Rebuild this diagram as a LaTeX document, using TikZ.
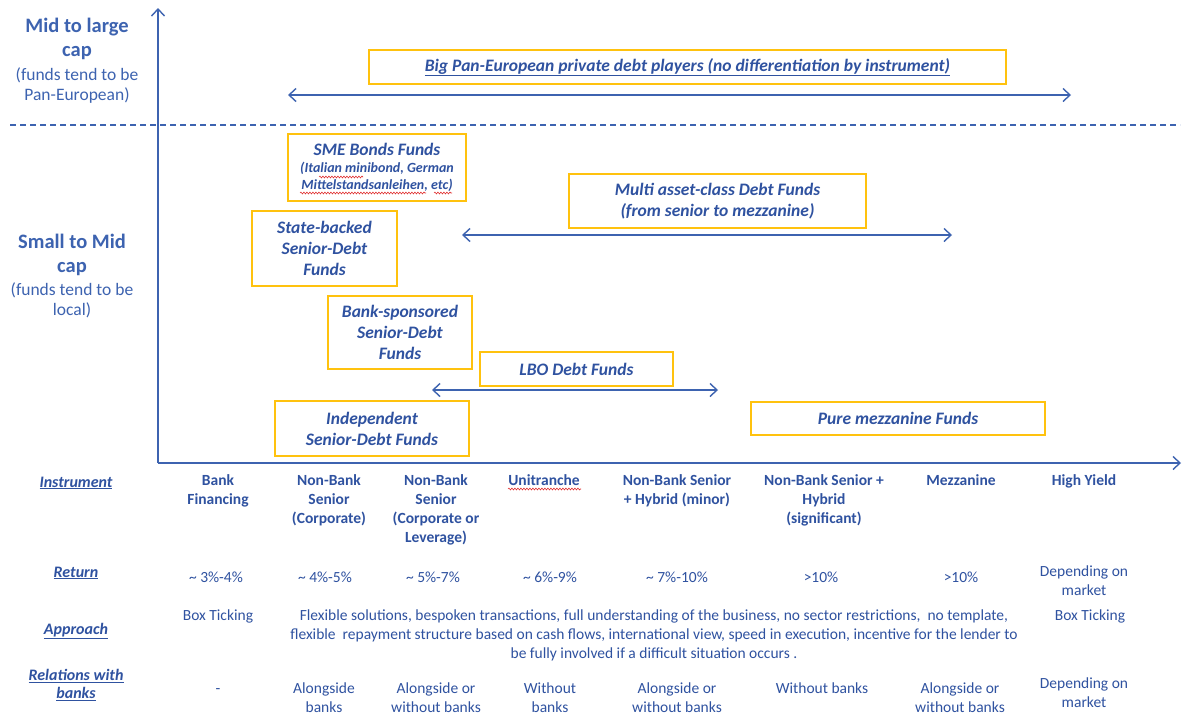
\documentclass[tikz,border=0pt]{standalone}
\usepackage{fontspec}
\setmainfont{Carlito}
\usetikzlibrary{arrows.meta,decorations.pathmorphing}
\definecolor{tblue}{HTML}{2F52A0}
\definecolor{lblue}{HTML}{3D63B0}
\definecolor{gold}{HTML}{FFC20E}
\definecolor{sred}{HTML}{E03030}
\begin{document}
\begin{tikzpicture}[x=1pt,y=-1pt,
  fbox/.style={draw=gold,line width=1.5pt,inner sep=0pt,text=tblue,font=\fontsize{17.5}{21}\selectfont\bfseries\itshape,align=center},
  dar/.style={draw=lblue,line width=1.4pt,{Straight Barb[length=7pt,width=13pt]}-{Straight Barb[length=7pt,width=13pt]}},
  axis/.style={draw=lblue,line width=1.4pt,-{Straight Barb[length=7pt,width=13pt]}},
  cell/.style={anchor=north,inner sep=0pt,text=tblue,align=center,font=\fontsize{15.5}{19}\selectfont},
  hcell/.style={cell,font=\fontsize{15.5}{19}\selectfont\bfseries},
  rowlab/.style={inner sep=0pt,text=tblue,align=center,font=\fontsize{16}{18}\selectfont\bfseries\itshape},
  sidebig/.style={anchor=north,inner sep=0pt,text=lblue,align=center,font=\fontsize{20.5}{24}\selectfont\bfseries},
  sidesmall/.style={anchor=north,inner sep=0pt,text=lblue,align=center,font=\fontsize{17.5}{19.5}\selectfont},
  squig/.style={draw=sred,line width=0.6pt,decorate,decoration={snake,amplitude=0.9pt,segment length=3pt}}
]
\useasboundingbox[fill=white] (0,0) rectangle (1182,715);

% axes
\coordinate (O) at (158,463);
\coordinate (ytop) at (158,8);
\coordinate (xend) at (1181,463);
\draw[axis] (O) -- (ytop);
\draw[axis] (O) -- (xend);
\coordinate (d1) at (10,125);
\coordinate (d2) at (1180,125);
\draw[draw=lblue,line width=1.3pt,dash pattern=on 6pt off 4pt] (d1) -- (d2);

% side labels
\node[sidebig] (mlc) at (77,18) {Mid to large\\cap};
\node[sidesmall] (mlcs) at (77,68) {(funds tend to be\\Pan-European)};
\node[sidebig] (smc) at (72,234) {Small to Mid\\cap};
\node[sidesmall] (smcs) at (72,283) {(funds tend to be\\local)};

% boxes
\node[fbox,minimum width=637pt,minimum height=34pt] (big) at (687.5,67) {\underline{Big Pan-European private debt players (no differentiation by instrument)}};
\node[fbox,minimum width=178pt,minimum height=67pt] (sme) at (377,167.5) {SME Bonds Funds\\[-4pt]{\fontsize{14}{16}\selectfont (Italian minibond, German}\\[-4pt]{\fontsize{14}{16}\selectfont Mittelstandsanleihen, etc)}};
\node[fbox,minimum width=297pt,minimum height=54pt] (multi) at (717.5,201) {Multi asset-class Debt Funds\\(from senior to mezzanine)};
\node[fbox,minimum width=145pt,minimum height=75pt] (state) at (324.5,248.5) {State-backed\\Senior-Debt\\Funds};
\node[fbox,minimum width=144pt,minimum height=73pt] (banksp) at (400,332.5) {Bank-sponsored\\Senior-Debt\\Funds};
\node[fbox,minimum width=193pt,minimum height=34pt] (lbo) at (576.5,369) {LBO Debt Funds};
\node[fbox,minimum width=194pt,minimum height=55pt] (indep) at (372,428.5) {Independent\\Senior-Debt Funds};
\node[fbox,minimum width=294pt,minimum height=33pt] (mezz) at (898,418.5) {Pure mezzanine Funds};

% spell-check squiggles
\coordinate (s1a) at (319,177); \coordinate (s1b) at (363,177);
\coordinate (s2a) at (300,193); \coordinate (s2b) at (426,193);
\coordinate (s3a) at (434,193); \coordinate (s3b) at (452,193);
\coordinate (s4a) at (508,489); \coordinate (s4b) at (581,489);
\draw[squig] (s1a) -- (s1b);
\draw[squig] (s2a) -- (s2b);
\draw[squig] (s3a) -- (s3b);
\draw[squig] (s4a) -- (s4b);

% range arrows
\coordinate (a1) at (288,95); \coordinate (a2) at (1071,95);
\draw[dar] (a1) -- (a2);
\coordinate (b1) at (462,235); \coordinate (b2) at (952,235);
\draw[dar] (b1) -- (b2);
\coordinate (c1) at (432,390); \coordinate (c2) at (718,390);
\draw[dar] (c1) -- (c2);

% row labels
\node[rowlab] (rInst) at (76,483) {\underline{Instrument}};
\node[rowlab] (rRet) at (76,573) {\underline{Return}};
\node[rowlab] (rApp) at (76,631) {\underline{Approach}};
\node[rowlab] (rRel) at (76,685) {\underline{Relations with}\\\underline{banks}};

% instrument row
\node[hcell] (i1) at (218,474) {Bank\\Financing};
\node[hcell] (i2) at (329,474) {Non-Bank\\Senior\\(Corporate)};
\node[hcell] (i3) at (436,474) {Non-Bank\\Senior\\(Corporate or\\Leverage)};
\node[hcell] (i4) at (544,474) {Unitranche};
\node[hcell] (i5) at (677,474) {Non-Bank Senior\\+ Hybrid (minor)};
\node[hcell] (i6) at (824,474) {Non-Bank Senior +\\Hybrid\\(significant)};
\node[hcell] (i7) at (961,474) {Mezzanine};
\node[hcell] (i8) at (1084,474) {High Yield};

% return row
\node[cell] (r1) at (216,572) {\textasciitilde\ 3\%-4\%};
\node[cell] (r2) at (325,572) {\textasciitilde\ 4\%-5\%};
\node[cell] (r3) at (433,572) {\textasciitilde\ 5\%-7\%};
\node[cell] (r4) at (550,572) {\textasciitilde\ 6\%-9\%};
\node[cell] (r5) at (677,572) {\textasciitilde\ 7\%-10\%};
\node[cell] (r6) at (821,572) {>10\%};
\node[cell] (r7) at (961,572) {>10\%};
\node[cell] (r8) at (1084,566) {Depending on\\market};

% approach row
\node[cell] (p1) at (218,610) {Box Ticking};
\node[cell] (p2) at (654,610) {Flexible solutions, bespoken transactions, full understanding of the business, no sector restrictions,\ \ no template,\\flexible\ \ repayment structure based on cash flows, international view, speed in execution, incentive for the lender to\\be fully involved if a difficult situation occurs .};
\node[cell] (p8) at (1090,610) {Box Ticking};

% relations row
\node[cell] (b1n) at (218,688) {-};
\node[cell] (b2n) at (324,683) {Alongside\\banks};
\node[cell] (b3n) at (436,683) {Alongside or\\without banks};
\node[cell] (b4n) at (550,683) {Without\\banks};
\node[cell] (b5n) at (677,683) {Alongside or\\without banks};
\node[cell] (b6n) at (822,683) {Without banks};
\node[cell] (b7n) at (960,683) {Alongside or\\without banks};
\node[cell] (b8n) at (1084,678) {Depending on\\market};
\end{tikzpicture}
\end{document}
